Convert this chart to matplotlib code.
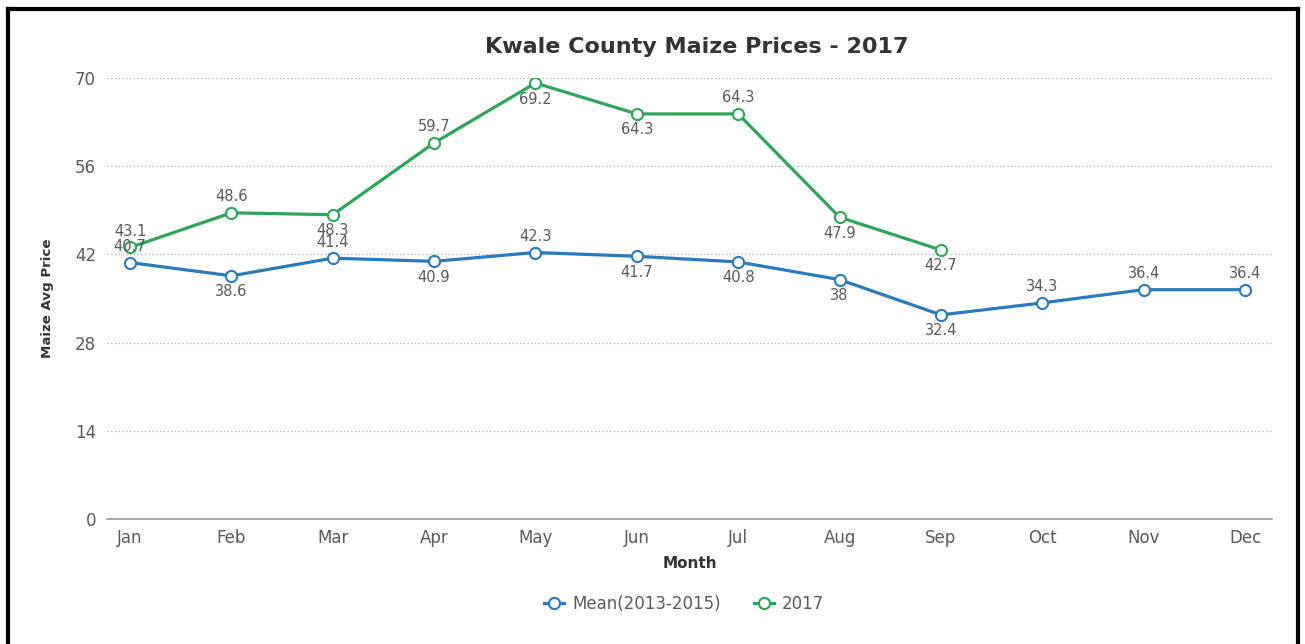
import matplotlib
matplotlib.use('Agg')
import matplotlib.pyplot as plt
from matplotlib.lines import Line2D

plt.rcParams['font.family'] = ['DejaVu Sans']

months = ['Jan', 'Feb', 'Mar', 'Apr', 'May', 'Jun', 'Jul', 'Aug', 'Sep', 'Oct', 'Nov', 'Dec']
mean_prices = [40.7, 38.6, 41.4, 40.9, 42.3, 41.7, 40.8, 38, 32.4, 34.3, 36.4, 36.4]
prices_2017 = [43.1, 48.6, 48.3, 59.7, 69.2, 64.3, 64.3, 47.9, 42.7]
# which side of the point each value label sits on (1 above, -1 below)
mean_side = [1, -1, 1, -1, 1, -1, -1, -1, -1, 1, 1, 1]
side_2017 = [1, 1, -1, 1, -1, -1, 1, -1, -1]
yticks = [0, 14, 28, 42, 56, 70]

blue = '#2a7bbd'
green = '#2fa55c'
grey_txt = '#5a5a5a'

fig = plt.figure(figsize=(13.05, 6.44), dpi=100)
ax = fig.add_axes([107 / 1305, 125 / 644, 1165 / 1305, 441 / 644])

x1 = list(range(len(mean_prices)))
x2 = list(range(len(prices_2017)))
ax.plot(x1, mean_prices, color=blue, lw=2.3, marker='o', ms=8,
        mfc='white', mec=blue, mew=1.5, zorder=3, label='Mean(2013-2015)')
ax.plot(x2, prices_2017, color=green, lw=2.3, marker='o', ms=8,
        mfc='white', mec=green, mew=1.5, zorder=3, label='2017')

for xs, ys, sides in [(x1, mean_prices, mean_side), (x2, prices_2017, side_2017)]:
    for x, y, s in zip(xs, ys, sides):
        ax.annotate(f'{y:g}', (x, y), xytext=(0, 11.5 * s), textcoords='offset points',
                    ha='center', va='center', fontsize=10.5, color=grey_txt, zorder=4)

ax.set_xlim(-0.227, 11.266)
ax.set_ylim(0, 70)
ax.set_xticks(x1)
ax.set_xticklabels(months)
ax.set_yticks(yticks)
ax.tick_params(axis='both', length=0, labelsize=12, labelcolor=grey_txt)
ax.tick_params(axis='x', pad=7)
ax.tick_params(axis='y', pad=8)
ax.grid(axis='y', linestyle=(0, (1, 2)), color='#aaaaaa', lw=0.9)
ax.grid(axis='x', visible=False)
for sp in ['top', 'right', 'left']:
    ax.spines[sp].set_visible(False)
ax.spines['bottom'].set_color('#999999')
ax.spines['bottom'].set_linewidth(1.2)

ax.set_xlabel('Month', fontsize=11, fontweight='bold', color='#333333', labelpad=7)
ax.set_ylabel('Maize Avg Price', fontsize=9.6, fontweight='bold', color='#333333', labelpad=15)

fig.text(697 / 1305, 1 - 47 / 644, 'Kwale County Maize Prices - 2017', ha='center', va='center',
         fontsize=16, fontweight='bold', color='#333333')

handles = [Line2D([], [], color=blue, lw=2.3, marker='o', ms=8, mfc='white', mec=blue, mew=1.5),
           Line2D([], [], color=green, lw=2.3, marker='o', ms=8, mfc='white', mec=green, mew=1.5)]
fig.legend(handles, ['Mean(2013-2015)', '2017'], loc='center', bbox_to_anchor=(684 / 1305, 1 - 604 / 644),
           ncol=2, frameon=False, fontsize=12, labelcolor=grey_txt, handlelength=1.2,
           columnspacing=2.0, handletextpad=0.5)

# black frame around the chart (open at the bottom)
frame = dict(color='black', lw=3, transform=fig.transFigure)
fig.add_artist(Line2D([8 / 1305, 8 / 1305], [0, 1 - 9 / 644], **frame))
fig.add_artist(Line2D([1298 / 1305, 1298 / 1305], [0, 1 - 9 / 644], **frame))
fig.add_artist(Line2D([8 / 1305, 1298 / 1305], [1 - 9 / 644, 1 - 9 / 644], **frame))

fig.savefig('out.png', dpi=100, facecolor='white')
